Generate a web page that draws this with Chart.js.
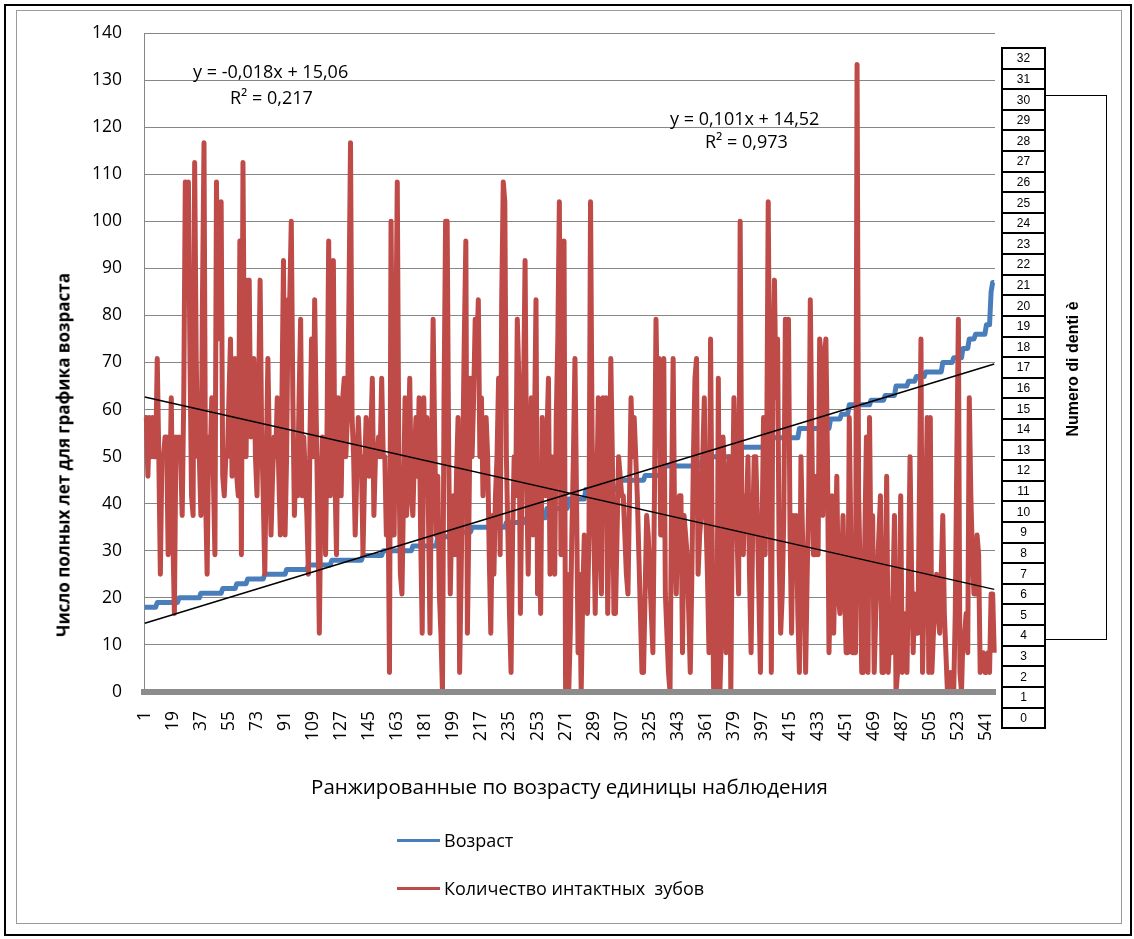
<!DOCTYPE html>
<html>
<head>
<meta charset="utf-8">
<script src="https://cdn.jsdelivr.net/npm/chart.js@4.4.1/dist/chart.umd.min.js"></script>
<style>
  html, body { margin: 0; padding: 0; background: #fff; }
  #wrap { position: relative; width: 1134px; height: 939px; overflow: hidden; font-family: "Open Sans", "Noto Sans", sans-serif; color: #000; }
  #outer { position: absolute; left: 4px; top: 4px; width: 1124px; height: 928px; border: 2px solid #000; }
  #inner { position: absolute; left: 16px; top: 10px; width: 1104px; height: 912px; border: 1px solid #9a9a9a; }
  #chart { position: absolute; left: 0; top: 0; }
  .txt { position: absolute; white-space: nowrap; line-height: 1; }
  #ytitle { left: 63px; top: 455px; transform: translate(-50%, -50%) rotate(-90deg); font-weight: bold; font-size: 17px; }
  .eq { font-size: 18px; }
  #legend { position: absolute; left: 397px; top: 828px; font-size: 18px; }
  .li { position: absolute; left: 0; height: 24px; display: flex; align-items: center; white-space: pre; }
  .li i { display: inline-block; width: 43px; height: 3px; margin-right: 4px; }
  #boxes { position: absolute; left: 1001px; top: 47px; width: 45px; height: 682px; border: 2px solid #000; box-sizing: border-box; display: flex; flex-direction: column; }
  #boxes div { flex: 1; border-bottom: 2px solid #000; display: flex; align-items: center; justify-content: center; font-family: "Liberation Sans Narrow", "Liberation Sans", sans-serif; font-size: 12px; }
  #boxes div:last-child { border-bottom: none; }
  #bigbox { position: absolute; left: 1045px; top: 95px; width: 62px; height: 545px; border: 1.5px solid #000; box-sizing: border-box; background: #fff; }
  #bigtxt { left: 1073px; top: 369px; transform: translate(-50%, -50%) rotate(-90deg); font-family: "Liberation Sans", Arial, sans-serif; font-weight: bold; font-size: 16px; }
</style>
</head>
<body>
<div id="wrap">
  <div id="outer"></div>
  <div id="inner"></div>
  <canvas id="chart" width="1134" height="939"></canvas>
  <div class="txt" id="ytitle">Число полных лет для графика возраста</div>
  <div class="txt eq" style="left:193px; top:62px;">y = -0,018x + 15,06</div>
  <div class="txt eq" style="left:230px; top:88px;">R² = 0,217</div>
  <div class="txt eq" style="left:670px; top:109px;">y = 0,101x + 14,52</div>
  <div class="txt eq" style="left:705px; top:132px;">R² = 0,973</div>
  <div id="legend"></div>
  <div id="boxes"></div>
  <div id="bigbox"></div>
  <div class="txt" id="bigtxt">Numero di denti è</div>
</div>
<script>
// ---- Data ----
const seriesNames = ['Возраст', 'Количество интактных  зубов'];
const xAxisTitle = 'Ранжированные по возрасту единицы наблюдения';
const yAxisTitle = 'Число полных лет для графика возраста';

// Age (years) of each observation, ranked by age
const ageYears = [
18,18,18,18,18,18,18,18,
19,19,19,19,19,19,19,19,19,19,19,19,19,19,
20,20,20,20,20,20,20,20,20,20,20,20,20,20,
21,21,21,21,21,21,21,21,21,21,21,21,21,21,
22,22,22,22,22,22,22,22,22,
23,23,23,23,23,23,23,
24,24,24,24,24,24,24,24,24,24,24,
25,25,25,25,25,25,25,25,25,25,25,25,25,25,
26,26,26,26,26,26,26,26,26,26,26,26,26,26,
27,27,27,27,27,27,27,27,27,27,27,27,27,27,27,
28,28,28,28,28,28,28,28,28,28,28,28,28,28,28,28,28,28,28,28,
29,29,29,29,29,29,29,29,29,29,29,29,29,
30,30,30,30,30,30,30,30,30,30,30,30,30,30,30,30,30,30,30,
31,31,31,31,31,31,31,31,31,31,31,31,31,31,31,31,
33,33,33,33,33,33,33,33,33,33,33,
34,34,34,34,34,34,34,34,34,34,34,
35,35,35,35,35,35,35,35,35,35,35,35,35,35,35,35,35,35,35,35,35,35,
36,36,36,36,36,36,36,36,36,36,36,36,36,
37,37,37,37,37,37,37,37,37,37,37,37,37,
39,39,39,39,39,39,39,39,39,39,39,39,39,39,
41,41,41,41,41,41,41,41,41,41,41,
43,43,43,43,43,43,43,43,43,43,43,43,43,43,43,43,43,43,43,43,43,
45,45,45,45,45,45,45,45,45,45,45,45,45,45,45,45,45,
46,46,46,46,46,46,46,46,46,46,46,46,
48,48,48,48,48,48,48,48,48,48,48,48,48,48,48,48,48,48,48,48,48,48,48,48,48,
50,50,50,50,50,50,50,50,50,50,50,50,50,50,50,50,50,50,50,50,50,50,50,50,
52,52,52,52,52,52,52,52,52,52,52,52,52,52,52,52,52,52,
54,54,54,54,54,54,54,54,54,54,54,54,54,54,54,54,54,54,54,54,
56,56,56,56,56,56,56,56,56,56,56,56,56,56,56,56,56,56,56,56,
58,58,58,58,58,58,58,
59,59,59,59,59,
61,61,61,61,61,61,61,61,61,61,61,61,61,61,
62,62,62,62,62,62,62,62,62,
63,63,63,63,63,63,63,
65,65,65,65,65,65,65,65,
66,66,66,66,66,
67,67,67,67,67,67,
68,68,68,68,68,68,68,68,68,68,68,
70,70,70,70,70,70,70,
71,71,71,71,71,71,
73,73,73,73,
75,75,75,75,
76,76,76,76,76,76,76,
78,78,78,
85,87,87
];

// Number of intact teeth of each observation (drawn on the 0..33.6 teeth scale)
const intactTeeth = [
14,14,11,14,12,14,12,12,17,12,
6,12,12,13,13,7,10,15,8,4,
13,12,13,12,9,15,26,22,26,17,
10,9,27,17,12,12,9,20,28,10,
6,13,12,15,11,7,26,18,21,25,
11,10,12,12,15,18,11,13,17,11,
10,23,7,27,15,12,21,21,13,14,
17,12,10,15,21,13,10,6,12,17,
12,8,11,13,12,15,11,8,15,22,
8,12,20,20,24,15,9,12,10,15,
19,10,13,11,9,6,13,18,12,20,
14,9,3,10,13,11,7,14,23,10,
16,22,11,7,15,12,10,15,16,12,
14,20,28,14,12,8,11,14,12,12,
7,11,14,12,11,13,16,9,12,12,
13,12,16,12,12,8,11,1,24,14,
8,17,26,12,6,5,10,15,9,12,
16,10,9,12,14,11,15,8,3,15,
11,14,9,3,12,19,13,8,11,5,
3,0,15,24,24,12,5,9,10,7,
11,14,1,6,12,18,23,3,9,16,
12,15,19,17,20,12,15,10,13,14,
12,7,3,9,6,10,12,16,7,20,
26,25,12,8,4,1,8,12,10,19,
16,4,11,15,22,11,6,12,15,8,
13,20,5,10,4,14,12,10,13,16,
6,12,9,6,14,18,25,7,15,23,
0,6,0,3,8,12,17,10,2,6,
0,5,8,6,4,8,25,13,9,4,
10,15,8,5,15,11,15,4,9,17,
12,4,4,8,12,11,10,10,8,6,
5,10,15,12,14,12,10,7,4,1,
1,5,9,8,6,4,2,10,19,14,
17,8,12,17,5,3,1,0,10,17,
8,5,9,10,10,2,9,8,7,4,
1,6,12,16,17,6,8,9,12,15,
9,6,2,18,8,0,6,0,16,0,
3,13,11,2,8,12,0,9,15,12,
8,5,24,10,7,10,9,12,6,2,
8,12,12,9,5,1,8,14,7,12,
25,14,1,16,21,15,18,7,3,5,
9,19,18,19,8,3,9,6,9,4,
1,12,8,5,1,6,10,20,13,7,
7,11,7,18,17,9,17,18,12,2,
6,10,3,7,11,5,4,6,9,5,
2,2,14,8,2,2,2,32,10,6,
1,1,8,13,1,14,6,9,1,4,
6,8,10,1,1,5,11,1,3,2,
5,9,0,1,3,10,1,4,3,1,
6,12,6,2,5,3,3,10,18,1,
5,9,14,1,14,1,3,5,6,4,
3,6,9,4,2,0,0,1,0,0,
4,12,19,1,0,3,3,4,2,15,
10,7,5,5,8,7,1,2,2,1,
1,2,1,5,5,2
];

// Linear trend lines shown on the chart (Excel equations)
const ageTrendSlope = 0.101, ageTrendIntercept = 14.52;
const teethTrendSlope = -0.018, teethTrendIntercept = 15.06;

// Axis ticks
const xTickLabels = ['1','19','37','55','73','91','109','127','145','163','181','199','217','235','253','271','289','307','325','343','361','379','397','415','433','451','469','487','505','523','541'];
const yMin = 0, yMax = 140, yStep = 10;
const teethAxisMax = 33.6;
const teethBoxLabels = [32,31,30,29,28,27,26,25,24,23,22,21,20,19,18,17,16,15,14,13,12,11,10,9,8,7,6,5,4,3,2,1,0];

// ---- Build ----
const categories = ageYears.map((_, i) => String(i + 1));
const nCat = categories.length;
const firstCat = categories[0], lastCat = categories[nCat - 1];

const BLUE = '#4a7ebb', RED = '#be4b48';
const FONT = '"Open Sans", "Noto Sans", sans-serif';

// right-hand box column
const boxes = document.getElementById('boxes');
teethBoxLabels.forEach(v => { const d = document.createElement('div'); d.textContent = v; boxes.appendChild(d); });

// legend
const legend = document.getElementById('legend');
[[seriesNames[0], BLUE, 0], [seriesNames[1], RED, 48]].forEach(([t, c, top]) => {
  const row = document.createElement('div');
  row.className = 'li';
  row.style.top = top + 'px';
  row.innerHTML = '<i style="background:' + c + '"></i><span></span>';
  row.querySelector('span').textContent = t;
  legend.appendChild(row);
});

new Chart(document.getElementById('chart'), {
  type: 'line',
  data: {
    labels: categories,
    datasets: [
      { label: seriesNames[0], data: ageYears, yAxisID: 'y', borderColor: BLUE, borderWidth: 5, pointRadius: 0, tension: 0, order: 2, borderJoinStyle: 'round' },
      { label: seriesNames[1], data: intactTeeth, yAxisID: 'yTeeth', borderColor: RED, borderWidth: 5, pointRadius: 0, tension: 0, order: 1, borderJoinStyle: 'round' },
      { label: 'trendAge', yAxisID: 'y', borderColor: '#000', borderWidth: 1.5, pointRadius: 0, order: 0,
        data: [{ x: firstCat, y: ageTrendSlope * 1 + ageTrendIntercept }, { x: lastCat, y: ageTrendSlope * nCat + ageTrendIntercept }] },
      { label: 'trendTeeth', yAxisID: 'yTeeth', borderColor: '#000', borderWidth: 1.5, pointRadius: 0, order: 0,
        data: [{ x: firstCat, y: teethTrendSlope * 1 + teethTrendIntercept }, { x: lastCat, y: teethTrendSlope * nCat + teethTrendIntercept }] }
    ]
  },
  options: {
    responsive: false,
    animation: false,
    devicePixelRatio: 1,
    layout: { padding: { left: 0, top: 33, right: 139, bottom: 0 } },
    plugins: { legend: { display: false }, tooltip: { enabled: false } },
    scales: {
      x: {
        type: 'category',
        offset: true,
        grid: { display: false, drawTicks: false },
        border: { display: true, color: '#8c8c8c', width: 6, z: 1 },
        ticks: {
          autoSkip: false, maxRotation: 90, minRotation: 90, padding: 19,
          color: '#000', font: { family: FONT, size: 17.5 },
          callback: function (v) { const l = this.getLabelForValue(v); return xTickLabels.includes(l) ? l : ''; }
        },
        title: { display: true, text: xAxisTitle, color: '#000', font: { family: FONT, size: 20.5 }, padding: { top: 0, bottom: 139 } },
        afterFit: s => { s.height = 247; }
      },
      y: {
        min: yMin, max: yMax,
        ticks: { stepSize: yStep, padding: 22, color: '#000', font: { family: FONT, size: 17.5 } },
        grid: { color: '#868686', lineWidth: 1, drawTicks: false },
        border: { display: true, color: '#868686', width: 1 },
        afterFit: s => { s.width = 144; }
      },
      yTeeth: { display: false, min: 0, max: teethAxisMax }
    }
  }
});
</script>
</body>
</html>
